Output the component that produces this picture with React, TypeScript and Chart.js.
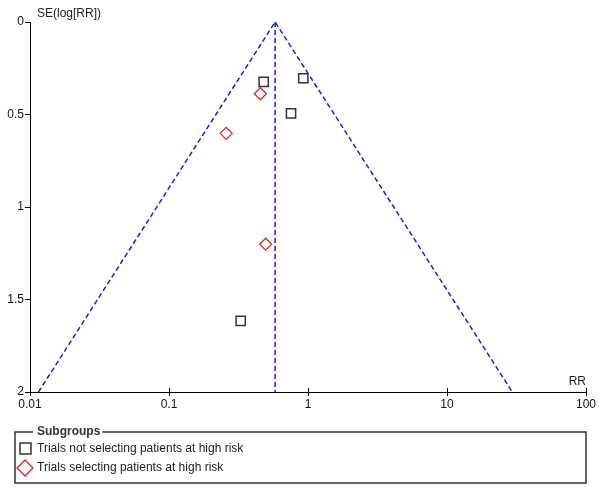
import React, { useEffect, useRef } from "react";
import { Chart, registerables } from "chart.js";

Chart.register(...registerables);

// ---- Data ----
const rrNotSelecting = [0.48, 0.925, 0.755, 0.328];
const seNotSelecting = [0.324, 0.304, 0.494, 1.616];
const rrSelecting = [0.454, 0.258, 0.496];
const seSelecting = [0.388, 0.602, 1.201];
const pooledRR = 0.58;
const funnelLeftRR = 0.0115;
const funnelRightRR = 29.5;
const seMax = 2;
const xTickValues = [0.01, 0.1, 1, 10, 100];
const xTickLabels = ["0.01", "0.1", "1", "10", "100"];
const yTickValues = [0, 0.5, 1, 1.5, 2];
const yTickLabels = ["0", "0.5", "1", "1.5", "2"];
const legendTitle = "Subgroups";
const seriesNames = [
  "Trials not selecting patients at high risk",
  "Trials selecting patients at high risk",
];
const axisTitleY = "SE(log[RR])";
const axisTitleX = "RR";

const FONT = "'Liberation Sans', Arial, sans-serif";
const BLUE = "#1e1ed6";
const RED = "#d42a2a";
const DARK = "#333333";

const decorPlugin = {
  id: "decor",
  afterDraw(chart: any) {
    const ctx = chart.ctx;
    const area = chart.chartArea;
    const xs = chart.scales.x;
    ctx.save();
    // upward x tick marks
    ctx.strokeStyle = "#000";
    ctx.lineWidth = 1;
    xTickValues.forEach((v) => {
      const px = Math.round(xs.getPixelForValue(v)) + 0.5;
      ctx.beginPath();
      ctx.moveTo(px, area.bottom - 4);
      ctx.lineTo(px, area.bottom);
      ctx.stroke();
    });
    // axis titles
    ctx.fillStyle = "#222";
    ctx.font = `12px ${FONT}`;
    ctx.textBaseline = "middle";
    ctx.textAlign = "left";
    ctx.fillText(axisTitleY, area.left + 7, area.top - 8);
    ctx.textAlign = "right";
    ctx.fillText(axisTitleX, area.right, area.bottom - 10);

    // legend box
    const bx = 15, by = 432, bw = 586 - 15, bh = 483 - 432;
    ctx.font = `bold 12px ${FONT}`;
    const tw = ctx.measureText(legendTitle).width;
    const tx = 37;
    ctx.strokeStyle = DARK;
    ctx.lineWidth = 1.5;
    ctx.beginPath();
    ctx.moveTo(tx - 4, by);
    ctx.lineTo(bx, by);
    ctx.lineTo(bx, by + bh);
    ctx.lineTo(bx + bw, by + bh);
    ctx.lineTo(bx + bw, by);
    ctx.lineTo(tx + tw + 2, by);
    ctx.stroke();
    ctx.textAlign = "left";
    ctx.textBaseline = "middle";
    ctx.fillStyle = "#333";
    ctx.fillText(legendTitle, tx, by);

    // legend items
    ctx.font = `12px ${FONT}`;
    ctx.fillStyle = "#222";
    // square
    ctx.strokeStyle = DARK;
    ctx.lineWidth = 1.5;
    ctx.strokeRect(20, 443, 11, 11);
    ctx.fillText(seriesNames[0], 37, 449);
    // diamond
    ctx.strokeStyle = RED;
    ctx.lineWidth = 1.3;
    const cx = 25, cy = 468, r = 8;
    ctx.beginPath();
    ctx.moveTo(cx - r, cy);
    ctx.lineTo(cx, cy - r);
    ctx.lineTo(cx + r, cy);
    ctx.lineTo(cx, cy + r);
    ctx.closePath();
    ctx.stroke();
    ctx.fillText(seriesNames[1], 37, 468);
    ctx.restore();
  },
};

export default function App() {
  const ref = useRef<HTMLCanvasElement | null>(null);
  useEffect(() => {
    if (!ref.current) return;
    const chart = new Chart(ref.current, {
      type: "scatter",
      data: {
        datasets: [
          {
            label: "funnel",
            data: [
              { x: funnelLeftRR, y: seMax },
              { x: pooledRR, y: 0 },
              { x: funnelRightRR, y: seMax },
            ],
            showLine: true,
            borderColor: BLUE,
            borderWidth: 1.5,
            borderDash: [5, 3],
            pointRadius: 0,
            fill: false,
          } as any,
          {
            label: "pooled",
            data: [
              { x: pooledRR, y: 0 },
              { x: pooledRR, y: seMax },
            ],
            showLine: true,
            borderColor: BLUE,
            borderWidth: 1.5,
            borderDash: [5, 3],
            pointRadius: 0,
            fill: false,
          } as any,
          {
            label: seriesNames[0],
            data: rrNotSelecting.map((x, i) => ({ x, y: seNotSelecting[i] })),
            pointStyle: "rect",
            pointRadius: 6.5,
            borderColor: DARK,
            backgroundColor: "rgba(0,0,0,0)",
            pointBorderWidth: 1.5,
          } as any,
          {
            label: seriesNames[1],
            data: rrSelecting.map((x, i) => ({ x, y: seSelecting[i] })),
            pointStyle: "rectRot",
            pointRadius: 6,
            borderColor: RED,
            backgroundColor: "rgba(0,0,0,0)",
            pointBorderWidth: 1.3,
          } as any,
        ],
      },
      options: {
        animation: false,
        responsive: false,
        layout: { padding: { left: 0, right: 14, top: 22, bottom: 77 } },
        plugins: {
          legend: { display: false },
          tooltip: { enabled: false },
        },
        scales: {
          x: {
            type: "logarithmic",
            min: 0.01,
            max: 100,
            afterBuildTicks: (scale: any) => {
              scale.ticks = xTickValues.map((v) => ({ value: v }));
            },
            afterFit: (scale: any) => {
              scale.height = 20;
            },
            ticks: {
              autoSkip: false,
              maxRotation: 0,
              padding: 1,
              color: "#111",
              font: { family: FONT, size: 12 },
              callback: (v: any) => {
                const i = xTickValues.findIndex((t) => Math.abs(t - v) < 1e-9);
                return i >= 0 ? xTickLabels[i] : "";
              },
            },
            grid: {
              display: true,
              drawOnChartArea: false,
              drawTicks: true,
              tickLength: 4,
              color: "#000",
            },
            border: { display: true, color: "#000", width: 1 },
          },
          y: {
            type: "linear",
            reverse: true,
            min: 0,
            max: 2,
            afterBuildTicks: (scale: any) => {
              scale.ticks = yTickValues.map((v) => ({ value: v }));
            },
            afterFit: (scale: any) => {
              scale.width = 30;
            },
            ticks: {
              autoSkip: false,
              padding: 1,
              color: "#111",
              font: { family: FONT, size: 12 },
              callback: (v: any) => {
                const i = yTickValues.findIndex((t) => Math.abs(t - v) < 1e-9);
                return i >= 0 ? yTickLabels[i] : "";
              },
            },
            grid: {
              display: true,
              drawOnChartArea: false,
              drawTicks: true,
              tickLength: 5,
              color: "#000",
            },
            border: { display: true, color: "#000", width: 1 },
          },
        },
      },
      plugins: [decorPlugin],
    });
    return () => chart.destroy();
  }, []);
  return (
    <div style={{ position: "fixed", left: 0, top: 0, width: 600, height: 489, background: "#fff" }}>
      <canvas ref={ref} width={600} height={489} style={{ display: "block" }} />
    </div>
  );
}
